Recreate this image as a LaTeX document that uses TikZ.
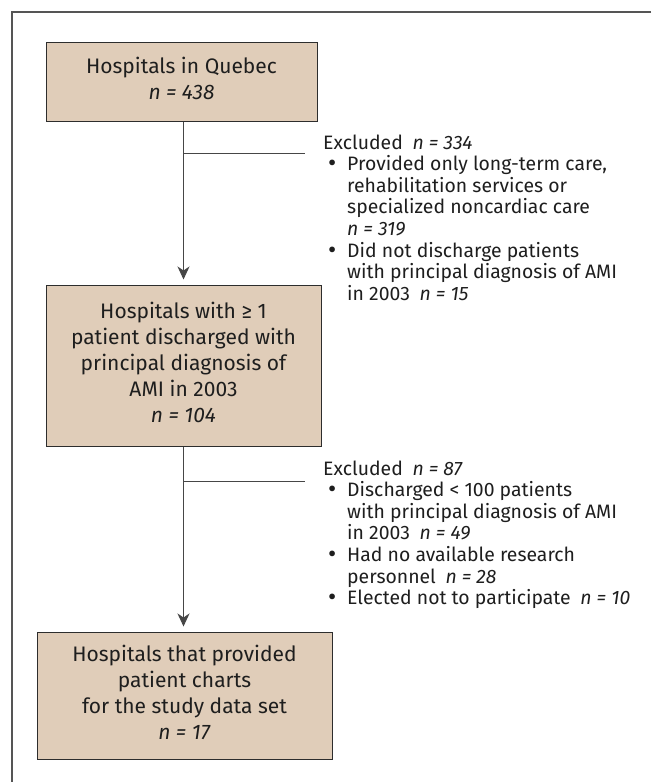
\documentclass[tikz,border=0pt]{standalone}
\usepackage{fontspec}
\setmainfont{Fira Sans}
\usetikzlibrary{arrows.meta}
\definecolor{boxfill}{RGB}{224,205,185}
\definecolor{boxline}{RGB}{45,45,45}
\definecolor{linecol}{RGB}{70,70,70}
\definecolor{framecol}{RGB}{85,85,85}
\definecolor{txt}{RGB}{30,30,30}
\newcommand{\bulitem}{\makebox[24pt][l]{\hspace{5pt}\raisebox{-1.2pt}{\scalebox{1.3}{\textbullet}}}}
\newcommand{\contline}{\hspace*{24pt}}
\begin{document}
\begin{tikzpicture}[x=1pt,y=-1pt,
  box/.style={draw=boxline, fill=boxfill, line width=1pt, align=center, inner sep=0pt, text=txt, font=\fontsize{21}{26}\selectfont},
  arr/.style={draw=linecol, line width=1pt, shorten >=5pt, -{Stealth[length=13pt,width=12pt,inset=4pt]}},
  branch/.style={draw=linecol, line width=1pt},
  note/.style={align=left, inner sep=0pt, anchor=base west, text=txt, font=\fontsize{19.4}{21.6}\selectfont},
  frame/.style={draw=framecol, line width=1.5pt}]
\useasboundingbox (0,0) rectangle (651,782);
\draw[frame] (651,12) -- (12,12) -- (12,782);

\node[box, minimum width=271pt, minimum height=79pt] (b1) at (181.5,81.5)
  {\raisebox{3pt}{\begin{tabular}{@{}c@{}}Hospitals in Quebec\\ \textit{n = 438}\end{tabular}}};
\node[box, minimum width=275pt, minimum height=161pt] (b2) at (183.5,365.5)
  {\raisebox{3pt}{\begin{tabular}{@{}c@{}}Hospitals with ≥ 1\\ patient discharged with\\ principal diagnosis of\\ AMI in 2003\\ \textit{n = 104}\end{tabular}}};
\node[box, minimum width=295pt, minimum height=127pt] (b3) at (184.5,695.5)
  {\begin{tabular}{@{}c@{}}Hospitals that provided\\ patient charts\\ for the study data set\\ \textit{n = 17}\end{tabular}};

\coordinate (e1) at (305,153);
\coordinate (e2) at (305,481);

\draw[arr] (b1.south -| b2.north) -- (b2.north);
\draw[arr] (b2.south) -- (b2.south |- b3.north);
\draw[branch] (e1 -| b2.north) -- (e1);
\draw[branch] (e2 -| b2.south) -- (e2);

\node[note] (x1) at (323,300.2)
  {Excluded\enspace\textit{n = 334}\\
   \bulitem Provided only long-term care,\\
   \contline rehabilitation services or\\
   \contline specialized noncardiac care\\
   \contline\textit{n = 319}\\
   \bulitem Did not discharge patients\\
   \contline with principal diagnosis of AMI\\
   \contline in 2003\enspace\textit{n = 15}};

\node[note] (x2) at (323,604.6)
  {Excluded\enspace\textit{n = 87}\\
   \bulitem Discharged < 100 patients\\
   \contline with principal diagnosis of AMI\\
   \contline in 2003\enspace\textit{n = 49}\\
   \bulitem Had no available research\\
   \contline personnel\enspace\textit{n = 28}\\
   \bulitem Elected not to participate\enspace\textit{n = 10}};
\end{tikzpicture}
\end{document}
